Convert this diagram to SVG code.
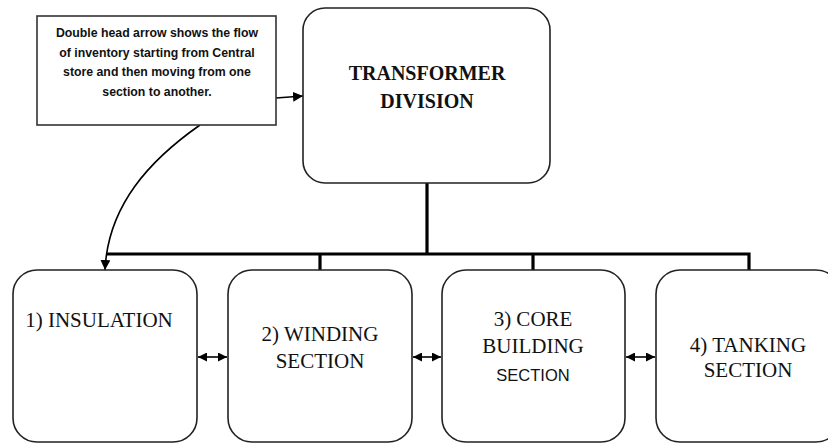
<svg xmlns="http://www.w3.org/2000/svg" width="828" height="443" viewBox="0 0 828 443">
<style>
.box{fill:#fff;stroke:#222;stroke-width:1.6}
.note{fill:#fff;stroke:#333;stroke-width:1.6}
.lbl{font-family:"Liberation Serif","Times New Roman",serif;font-size:21px;fill:#111;text-anchor:middle}
.ttl{font-family:"Liberation Serif","Times New Roman",serif;font-size:20px;font-weight:bold;fill:#111;text-anchor:middle}
.sans{font-family:"Liberation Sans",Arial,sans-serif;font-size:16.5px;fill:#111;text-anchor:middle}
.nt{font-family:"Liberation Sans",Arial,sans-serif;font-size:12.3px;font-weight:bold;fill:#111;text-anchor:middle}
.thick{fill:none;stroke:#000;stroke-width:3.2}
.thin{fill:none;stroke:#000;stroke-width:1.6}
</style>
<defs>
<marker id="ah" viewBox="0 0 10 10" refX="10" refY="5" markerWidth="9" markerHeight="9" markerUnits="userSpaceOnUse" orient="auto-start-reverse">
<path d="M0,0 L10,5 L0,10 z" fill="#000"/>
</marker>
<marker id="ah2" viewBox="0 0 10 10" refX="10" refY="5" markerWidth="10" markerHeight="10" markerUnits="userSpaceOnUse" orient="auto-start-reverse">
<path d="M0,0 L10,5 L0,10 z" fill="#000"/>
</marker>
</defs>
<rect width="828" height="443" fill="#fff"/>
<g id="connectors">
<path class="thick" d="M427,183 V254"/>
<path class="thick" d="M106,254 H749 V270"/>
<path class="thick" d="M320,254 V270"/>
<path class="thick" d="M533,254 V270"/>
<path class="thin" d="M276,98 L303,96" marker-end="url(#ah2)"/>
<path class="thin" d="M200,125 C150,160 108,205 105,270" marker-end="url(#ah2)"/>
<path class="thin" d="M198,357 H227" marker-start="url(#ah)" marker-end="url(#ah)"/>
<path class="thin" d="M413,357 H441" marker-start="url(#ah)" marker-end="url(#ah)"/>
<path class="thin" d="M626,357 H655" marker-start="url(#ah)" marker-end="url(#ah)"/>
</g>
<g id="note">
<rect class="note" x="37" y="16" width="239" height="109"/>
<text class="nt" x="157" y="37">Double head arrow shows the flow</text>
<text class="nt" x="157" y="57">of inventory starting from Central</text>
<text class="nt" x="157" y="76">store and then moving from one</text>
<text class="nt" x="157" y="96">section to another.</text>
</g>
<g id="transformer">
<rect class="box" x="303" y="8" width="247" height="175" rx="22"/>
<text class="ttl" x="427" y="80">TRANSFORMER</text>
<text class="ttl" x="427" y="108">DIVISION</text>
</g>
<g id="insulation">
<rect class="box" x="13" y="270" width="184" height="172" rx="24"/>
<text class="lbl" x="99" y="327">1) INSULATION</text>
</g>
<g id="winding">
<rect class="box" x="228" y="270" width="184" height="172" rx="24"/>
<text class="lbl" x="320" y="341">2) WINDING</text>
<text class="lbl" x="320" y="368">SECTION</text>
</g>
<g id="core">
<rect class="box" x="442" y="270" width="183" height="172" rx="24"/>
<text class="lbl" x="533" y="326">3) CORE</text>
<text class="lbl" x="533" y="353">BUILDING</text>
<text class="sans" x="533" y="381">SECTION</text>
</g>
<g id="tanking">
<rect class="box" x="656" y="270" width="184" height="172" rx="24"/>
<text class="lbl" x="748" y="352">4) TANKING</text>
<text class="lbl" x="748" y="377">SECTION</text>
</g>
</svg>
